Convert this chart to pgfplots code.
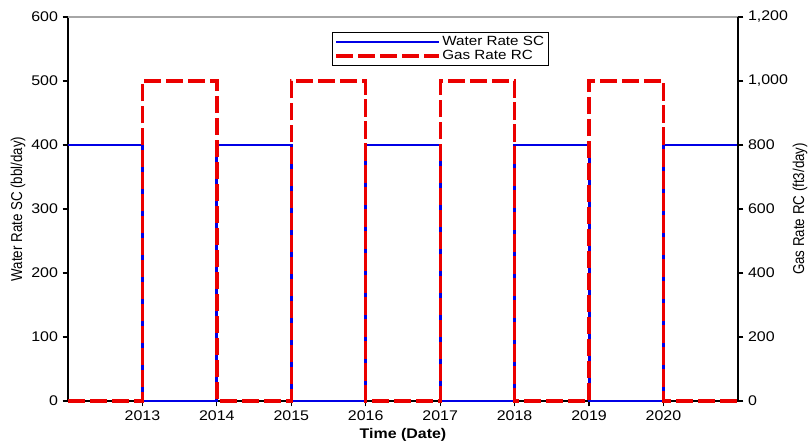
\documentclass[border=0pt]{standalone}
\usepackage{fontspec}
\setmainfont[FakeStretch=1.14]{Liberation Sans}
\newfontfamily\plainfont{Liberation Sans}
\usepackage{pgfplots}
\pgfplotsset{compat=1.18}
\definecolor{wblue}{RGB}{0,0,230}
\definecolor{gred}{RGB}{235,0,0}
\begin{document}
\begin{tikzpicture}
\useasboundingbox (-51pt,-31.5pt) rectangle (555pt,300.75pt);
\pgfplotsset{
  every axis/.append style={
    scale only axis, width=502.5pt, height=288pt,
    xmin=2012, xmax=2021, clip=false,
    font=\fontsize{10.5}{12}\selectfont,
    /pgf/number format/assume math mode=true,
    tick style={black, line width=0.9pt},
    major tick length=4pt,
    axis line style={line width=1.1pt},
  }
}
\begin{axis}[
  axis x line*=bottom, axis y line*=left,
  ymin=0, ymax=600,
  ytick={0,100,...,600},
  xtick={2013,...,2020},
  xticklabel style={/pgf/number format/set thousands separator={}},
  tick align=outside,
  xlabel={\textbf{Time (Date)}},
  xlabel style={at={(axis description cs:0.5,-0.0885)}, anchor=center},
  ylabel={\scalebox{1}[1.18]{\plainfont\fontsize{10}{12}\selectfont Water Rate SC (bbl/day)}},
  ylabel style={at={(axis description cs:-0.0746,0.5)}, anchor=center, rotate=0},
]
\draw[gray!70, line width=0.8pt] (rel axis cs:0,1) -- (rel axis cs:1,1);
\addplot[wblue, line width=2.1pt] coordinates {
(2012,400)(2013,400)(2013,0)(2014,0)(2014,400)(2015,400)(2015,0)(2016,0)(2016,400)
(2017,400)(2017,0)(2018,0)(2018,400)(2019,400)(2019,0)(2020,0)(2020,400)(2021,400)};
\end{axis}
\begin{axis}[
  axis x line=none, axis y line*=right,
  ymin=0, ymax=1200,
  ytick={0,200,...,1200},
  yticklabel style={/pgf/number format/.cd, 1000 sep={,}},
  tick align=outside,
  ylabel={\scalebox{1}[1.18]{\plainfont\fontsize{10}{12}\selectfont Gas Rate RC (ft3/day)}},
  ylabel style={at={(axis description cs:1.0925,0.5)}, anchor=center, rotate=0},
  legend style={at={(axis description cs:0.394,0.961)}, anchor=north west,
    draw=black, line width=0.6pt, inner xsep=1.5pt, inner ysep=1.5pt, row sep=-1pt,
    nodes={inner sep=1.5pt, font=\fontsize{10}{12}\selectfont}},
  legend cell align=left,
  legend image code/.code={\draw[#1] (0pt,0pt) -- (77pt,0pt);},
]
\addlegendimage{wblue, line width=2.1pt}
\addlegendentry{Water Rate SC\hspace{9pt}}
\addplot[gred, line width=2.5pt, dash pattern=on 13pt off 3.5pt] coordinates {
(2012,0)(2013,0)(2013,1000)(2014,1000)(2014,0)(2015,0)(2015,1000)(2016,1000)(2016,0)
(2017,0)(2017,1000)(2018,1000)(2018,0)(2019,0)(2019,1000)(2020,1000)(2020,0)(2021,0)};
\addlegendentry{Gas Rate RC}
\end{axis}
\end{tikzpicture}
\end{document}
